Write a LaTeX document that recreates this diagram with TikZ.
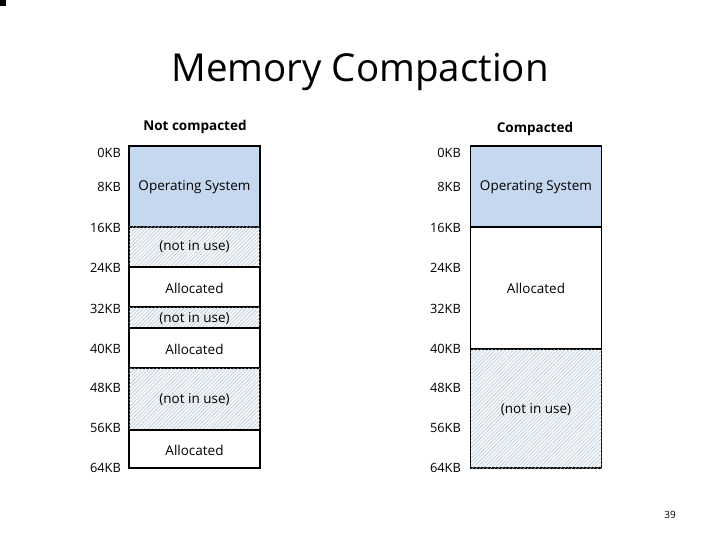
\documentclass[tikz,border=0pt]{standalone}
\usepackage{fontspec}
\setmainfont{Open Sans}
\usetikzlibrary{patterns.meta}
\definecolor{osblue}{RGB}{197,216,239}
\definecolor{hatchc}{RGB}{178,196,210}
\definecolor{hatchbg}{RGB}{246,248,250}
\tikzset{
  seg/.style={draw=black, line width=1.6pt, inner sep=0pt, minimum width=131pt},
  osseg/.style={seg, fill=osblue},
  freeseg/.style={seg, fill=hatchbg, postaction={pattern={Lines[angle=45,distance=2.6pt,line width=0.45pt]}, pattern color=hatchc}},
  allocseg/.style={seg, fill=white},
  segtext/.style={font=\fontsize{13.5}{15}\selectfont},
  kb/.style={anchor=east, inner sep=0pt, font=\fontsize{12.8}{15}\selectfont},
  head/.style={font=\fontsize{13.5}{15}\selectfont\bfseries},
}
\begin{document}
\begin{tikzpicture}[x=1pt,y=-1pt]
\useasboundingbox (0,0) rectangle (720,540);
\fill[black] (0,0) rectangle (6,6);
\node[anchor=base, inner sep=0pt] (title) at (360,82) {\fontsize{38.5}{44}\selectfont Memory Compaction};
\node[head] (hl) at (195,127) {Not compacted};
\node[head] (hr) at (535,129) {Compacted};
% left column
\node[osseg, minimum height=81pt] (l1) at (194.5,186.5) {};
\node[freeseg, minimum height=40pt] (l2) at (194.5,247) {};
\node[allocseg, minimum height=40pt] (l3) at (194.5,287) {};
\node[freeseg, minimum height=21pt] (l4) at (194.5,317.5) {};
\node[allocseg, minimum height=40pt] (l5) at (194.5,348) {};
\node[freeseg, minimum height=62pt] (l6) at (194.5,399) {};
\node[allocseg, minimum height=38pt] (l7) at (194.5,449) {};
\node[segtext] (t1) at (194.5,187) {Operating System};
\node[segtext] (t2) at (194.5,247) {(not in use)};
\node[segtext] (t3) at (194.5,288) {Allocated};
\node[segtext] (t4) at (194.5,319) {(not in use)};
\node[segtext] (t5) at (194.5,349) {Allocated};
\node[segtext] (t6) at (194.5,400) {(not in use)};
\node[segtext] (t7) at (194.5,450) {Allocated};
% right column
\node[osseg, minimum height=81pt] (r1) at (536,186.5) {};
\node[allocseg, minimum height=122pt] (r2) at (536,288) {};
\node[freeseg, minimum height=119pt] (r3) at (536,408.5) {};
\node[segtext] (u1) at (536,187) {Operating System};
\node[segtext] (u2) at (536,288) {Allocated};
\node[segtext] (u3) at (536,410) {(not in use)};
% KB labels
\foreach \v/\y [count=\i] in {0KB/153,8KB/187,16KB/228,24KB/268,32KB/309,40KB/349,48KB/388,56KB/428,64KB/468}{
  \node[kb] (kl\i) at (121,\y) {\v};
  \node[kb] (kr\i) at (461,\y) {\v};
}
\node[font=\fontsize{10}{12}\selectfont] (pg) at (670,515) {39};
\end{tikzpicture}
\end{document}
